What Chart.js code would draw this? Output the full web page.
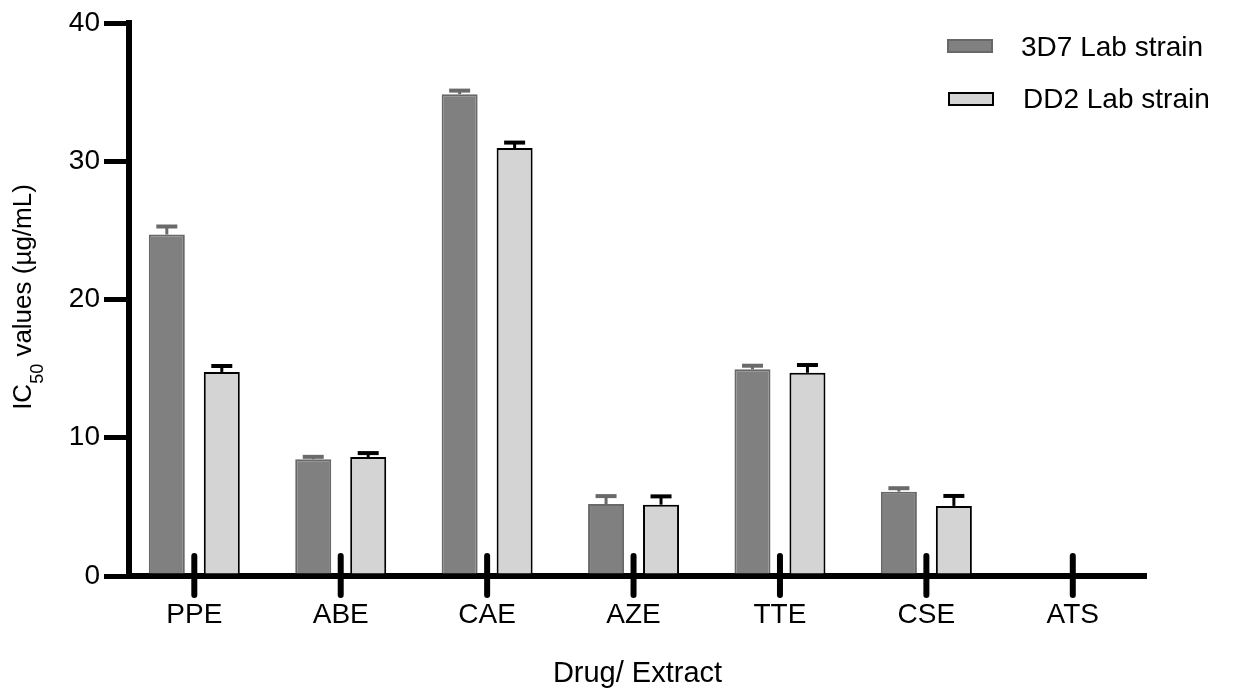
<!DOCTYPE html>
<html><head><meta charset="utf-8">
<script src="https://cdn.jsdelivr.net/npm/chart.js@4.4.1/dist/chart.umd.min.js"></script>
<style>html,body{margin:0;padding:0;background:#fff;} canvas{display:block;}</style>
</head><body>
<canvas id="c" width="1246" height="691"></canvas>
<script>
const categories = ['PPE', 'ABE', 'CAE', 'AZE', 'TTE', 'CSE', 'ATS'];
const seriesNames = ['3D7 Lab strain', 'DD2 Lab strain'];
const values3D7 = [24.7, 8.45, 34.85, 5.2, 14.95, 6.1, null];
const errors3D7 = [0.58, 0.17, 0.26, 0.58, 0.26, 0.25, null];
const valuesDD2 = [14.76, 8.6, 30.95, 5.16, 14.7, 5.07, null];
const errorsDD2 = [0.43, 0.29, 0.4, 0.6, 0.56, 0.72, null];
const yTicks = [0, 10, 20, 30, 40];
const xTitle = 'Drug/ Extract';
const yTitleParts = ['IC', '50', ' values (µg/mL)'];

const FAM = '"Liberation Sans", Arial, Helvetica, sans-serif';
Chart.defaults.font.family = FAM;
Chart.defaults.color = '#000';

const errorBars = {
  id: 'errorBars',
  afterDatasetsDraw(chart) {
    const ctx = chart.ctx, ys = chart.scales.y;
    chart.data.datasets.forEach((ds, di) => {
      const meta = chart.getDatasetMeta(di);
      meta.data.forEach((bar, i) => {
        const v = ds.data[i], e = ds.errors[i];
        if (v == null || e == null) return;
        const top = ys.getPixelForValue(v + e), base = ys.getPixelForValue(v);
        ctx.save();
        ctx.strokeStyle = ds.errorColor;
        ctx.lineWidth = 3;
        ctx.beginPath(); ctx.moveTo(bar.x, base); ctx.lineTo(bar.x, top); ctx.stroke();
        ctx.lineWidth = 4;
        ctx.beginPath(); ctx.moveTo(bar.x - 10.5, top); ctx.lineTo(bar.x + 10.5, top); ctx.stroke();
        ctx.restore();
      });
    });
  }
};

const xTickMarks = {
  id: 'xTickMarks',
  afterDraw(chart) {
    const ctx = chart.ctx, xs = chart.scales.x, b = chart.chartArea.bottom;
    ctx.save();
    ctx.strokeStyle = '#000'; ctx.lineWidth = 6; ctx.lineCap = 'round';
    xs.ticks.forEach((t, i) => {
      const x = xs.getPixelForTick(i);
      ctx.beginPath(); ctx.moveTo(x, b - 20); ctx.lineTo(x, b + 19); ctx.stroke();
    });
    ctx.restore();
  }
};

const customLegend = {
  id: 'customLegend',
  afterDraw(chart) {
    const ctx = chart.ctx;
    const rows = [{ base: 56, box: 39, bx: 947, tx: 1021 }, { base: 108, box: 92, bx: 948, tx: 1023 }];
    chart.data.datasets.forEach((ds, i) => {
      const r = rows[i];
      ctx.save();
      ctx.fillStyle = ds.backgroundColor; ctx.fillRect(r.bx, r.box, 46, 14);
      ctx.strokeStyle = ds.borderColor; ctx.lineWidth = 2; ctx.strokeRect(r.bx + 1, r.box + 1, 44, 12);
      ctx.fillStyle = '#000'; ctx.font = '28px ' + FAM; ctx.textBaseline = 'alphabetic';
      ctx.fillText(ds.label, r.tx, r.base);
      ctx.restore();
    });
  }
};

const yTitle = {
  id: 'yTitle',
  afterDraw(chart) {
    const ctx = chart.ctx;
    const fonts = ['26px ' + FAM, '18px ' + FAM, '26px ' + FAM];
    const shifts = [0, 12, 0];
    ctx.save();
    let total = 0;
    const widths = yTitleParts.map((p, i) => { ctx.font = fonts[i]; const w = ctx.measureText(p).width; total += w; return w; });
    ctx.translate(31, 297);
    ctx.rotate(-Math.PI / 2);
    ctx.fillStyle = '#000'; ctx.textBaseline = 'alphabetic';
    let x = -total / 2;
    yTitleParts.forEach((p, i) => { ctx.font = fonts[i]; ctx.fillText(p, x, shifts[i]); x += widths[i]; });
    ctx.restore();
  }
};

new Chart(document.getElementById('c'), {
  type: 'bar',
  data: {
    labels: categories,
    datasets: [
      { label: seriesNames[0], data: values3D7, errors: errors3D7, backgroundColor: '#808080', borderColor: '#686868', borderWidth: 2, errorColor: '#6a6a6a' },
      { label: seriesNames[1], data: valuesDD2, errors: errorsDD2, backgroundColor: '#d4d4d4', borderColor: '#000000', borderWidth: 2, errorColor: '#000000' }
    ]
  },
  options: {
    responsive: false,
    animation: false,
    devicePixelRatio: 1,
    categoryPercentage: 0.751,
    barPercentage: 0.655,
    layout: { padding: { top: 23, right: 100, left: 0, bottom: 0 } },
    plugins: { legend: { display: false }, tooltip: { enabled: false }, title: { display: false } },
    scales: {
      x: {
        offset: true,
        grid: { display: true, drawOnChartArea: false, drawTicks: true, tickLength: 21, color: 'rgba(0,0,0,0)', offset: false },
        border: { display: true, color: '#000', width: 6 },
        ticks: { color: '#000', font: { size: 28 }, padding: 1, maxRotation: 0, autoSkip: false },
        title: { display: true, text: xTitle, color: '#000', font: { size: 29 }, padding: { top: 0, bottom: 0 } },
        afterBuildTicks: s => { s._startValue += 0.054; s._valueRange -= 0.054; },
        afterFit: s => { s.height = 115; }
      },
      y: {
        min: 0, max: 40,
        grid: { drawOnChartArea: false, drawTicks: true, tickLength: 25, color: '#000', lineWidth: 5 },
        border: { display: true, color: '#000', width: 6 },
        ticks: { color: '#000', font: { size: 28 }, padding: 4 },
        afterBuildTicks: s => { s.ticks = yTicks.map(v => ({ value: v })); },
        afterFit: s => { s.width = 129; }
      }
    }
  },
  plugins: [errorBars, xTickMarks, customLegend, yTitle]
});
</script>
</body></html>
